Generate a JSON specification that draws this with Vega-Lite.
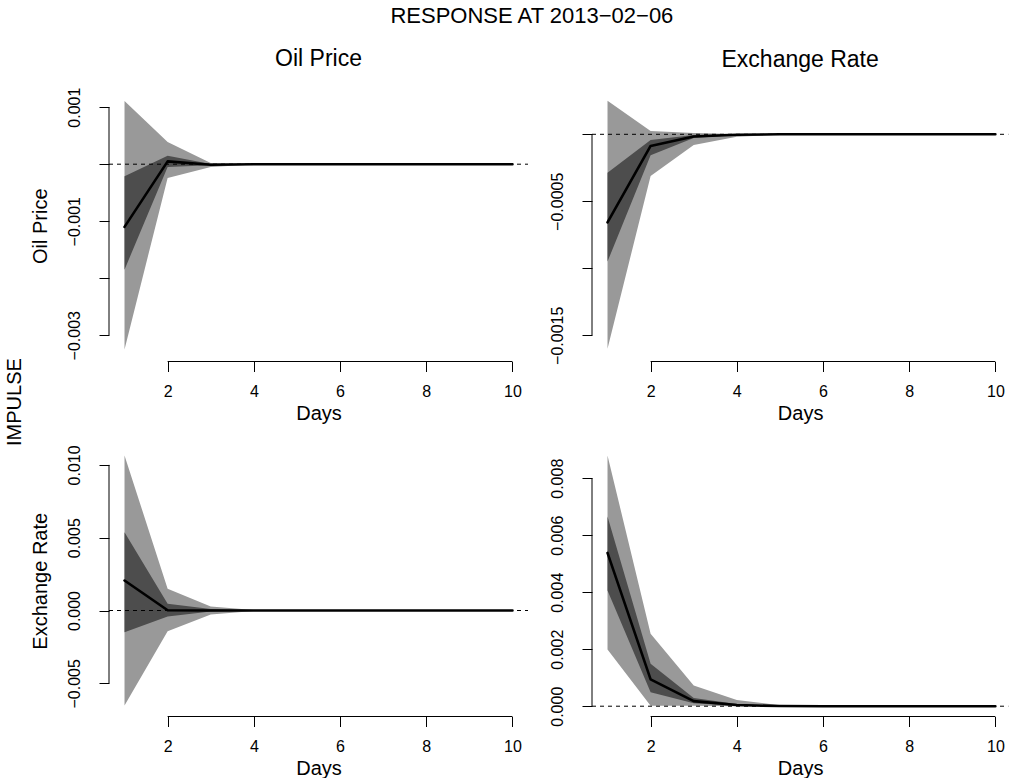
{
  "$schema": "https://vega.github.io/schema/vega-lite/v6.json",
  "background": "white",
  "padding": {"left": 4, "top": 5, "right": 0, "bottom": 0},
  "autosize": {"type": "pad"},
  "title": {"text": "RESPONSE AT 2013−02−06", "fontSize": 22, "font": "Liberation Sans", "fontWeight": "normal", "color": "black", "anchor": "middle", "baseline": "alphabetic", "offset": 3, "frame": "bounds", "dx": 25},
  "datasets": {
    "tl": [
      {"day": 1, "lo_outer": -0.00325, "lo_inner": -0.00185, "irf": -0.0011, "hi_inner": -0.00021, "hi_outer": 0.00111},
      {"day": 2, "lo_outer": -0.00024, "lo_inner": -0.00005, "irf": 0.00005, "hi_inner": 0.00015, "hi_outer": 0.00039},
      {"day": 3, "lo_outer": -0.00005, "lo_inner": -0.00002, "irf": -0.00001, "hi_inner": 0.000005, "hi_outer": 0.00002},
      {"day": 4, "lo_outer": -0.000005, "lo_inner": -0.000002, "irf": 0, "hi_inner": 0.000001, "hi_outer": 0.000004},
      {"day": 5, "lo_outer": 0, "lo_inner": 0, "irf": 0, "hi_inner": 0, "hi_outer": 0},
      {"day": 6, "lo_outer": 0, "lo_inner": 0, "irf": 0, "hi_inner": 0, "hi_outer": 0},
      {"day": 7, "lo_outer": 0, "lo_inner": 0, "irf": 0, "hi_inner": 0, "hi_outer": 0},
      {"day": 8, "lo_outer": 0, "lo_inner": 0, "irf": 0, "hi_inner": 0, "hi_outer": 0},
      {"day": 9, "lo_outer": 0, "lo_inner": 0, "irf": 0, "hi_inner": 0, "hi_outer": 0},
      {"day": 10, "lo_outer": 0, "lo_inner": 0, "irf": 0, "hi_inner": 0, "hi_outer": 0}
    ],
    "tr": [
      {"day": 1, "lo_outer": -0.0016, "lo_inner": -0.00095, "irf": -0.000657, "hi_inner": -0.000287, "hi_outer": 0.00025},
      {"day": 2, "lo_outer": -0.000311, "lo_inner": -0.000157, "irf": -0.000087, "hi_inner": -0.000043, "hi_outer": 0.000025},
      {"day": 3, "lo_outer": -0.00008, "lo_inner": -0.000028, "irf": -0.000016, "hi_inner": -0.000005, "hi_outer": 0.00001},
      {"day": 4, "lo_outer": -0.000018, "lo_inner": -0.000006, "irf": -0.000003, "hi_inner": -0.000001, "hi_outer": 0.000002},
      {"day": 5, "lo_outer": -0.000003, "lo_inner": -0.000001, "irf": 0, "hi_inner": 0, "hi_outer": 0},
      {"day": 6, "lo_outer": 0, "lo_inner": 0, "irf": 0, "hi_inner": 0, "hi_outer": 0},
      {"day": 7, "lo_outer": 0, "lo_inner": 0, "irf": 0, "hi_inner": 0, "hi_outer": 0},
      {"day": 8, "lo_outer": 0, "lo_inner": 0, "irf": 0, "hi_inner": 0, "hi_outer": 0},
      {"day": 9, "lo_outer": 0, "lo_inner": 0, "irf": 0, "hi_inner": 0, "hi_outer": 0},
      {"day": 10, "lo_outer": 0, "lo_inner": 0, "irf": 0, "hi_inner": 0, "hi_outer": 0}
    ],
    "bl": [
      {"day": 1, "lo_outer": -0.00652, "lo_inner": -0.00149, "irf": 0.00206, "hi_inner": 0.00538, "hi_outer": 0.01065},
      {"day": 2, "lo_outer": -0.00142, "lo_inner": -0.00041, "irf": 0.00002, "hi_inner": 0.00046, "hi_outer": 0.00149},
      {"day": 3, "lo_outer": -0.00027, "lo_inner": -0.00007, "irf": 0, "hi_inner": 0.0001, "hi_outer": 0.00027},
      {"day": 4, "lo_outer": -0.00003, "lo_inner": -0.00001, "irf": 0, "hi_inner": 0.00001, "hi_outer": 0.00003},
      {"day": 5, "lo_outer": 0, "lo_inner": 0, "irf": 0, "hi_inner": 0, "hi_outer": 0},
      {"day": 6, "lo_outer": 0, "lo_inner": 0, "irf": 0, "hi_inner": 0, "hi_outer": 0},
      {"day": 7, "lo_outer": 0, "lo_inner": 0, "irf": 0, "hi_inner": 0, "hi_outer": 0},
      {"day": 8, "lo_outer": 0, "lo_inner": 0, "irf": 0, "hi_inner": 0, "hi_outer": 0},
      {"day": 9, "lo_outer": 0, "lo_inner": 0, "irf": 0, "hi_inner": 0, "hi_outer": 0},
      {"day": 10, "lo_outer": 0, "lo_inner": 0, "irf": 0, "hi_inner": 0, "hi_outer": 0}
    ],
    "br": [
      {"day": 1, "lo_outer": 0.00199, "lo_inner": 0.00406, "irf": 0.00538, "hi_inner": 0.00666, "hi_outer": 0.0088},
      {"day": 2, "lo_outer": 0.00002, "lo_inner": 0.00049, "irf": 0.00094, "hi_inner": 0.00149, "hi_outer": 0.00254},
      {"day": 3, "lo_outer": 0.00002, "lo_inner": 0.0001, "irf": 0.00018, "hi_inner": 0.00029, "hi_outer": 0.00073},
      {"day": 4, "lo_outer": 0, "lo_inner": 0.00001, "irf": 0.00004, "hi_inner": 0.00008, "hi_outer": 0.00022},
      {"day": 5, "lo_outer": 0, "lo_inner": 0, "irf": 0.000005, "hi_inner": 0.00001, "hi_outer": 0.00003},
      {"day": 6, "lo_outer": 0, "lo_inner": 0, "irf": 0, "hi_inner": 0, "hi_outer": 0},
      {"day": 7, "lo_outer": 0, "lo_inner": 0, "irf": 0, "hi_inner": 0, "hi_outer": 0},
      {"day": 8, "lo_outer": 0, "lo_inner": 0, "irf": 0, "hi_inner": 0, "hi_outer": 0},
      {"day": 9, "lo_outer": 0, "lo_inner": 0, "irf": 0, "hi_inner": 0, "hi_outer": 0},
      {"day": 10, "lo_outer": 0, "lo_inner": 0, "irf": 0, "hi_inner": 0, "hi_outer": 0}
    ]
  },
  "vconcat": [
    {
      "title": {"text": "IMPULSE", "orient": "left", "fontSize": 20, "font": "Liberation Sans", "fontWeight": "normal", "color": "black", "anchor": "middle", "baseline": "bottom", "offset": -15, "frame": "bounds", "dx": 11},
      "bounds": "flush",
      "columns": 2,
      "spacing": {"row": 83, "column": 64},
      "concat": [
        {
          "data": {"name": "tl"},
          "width": 419, "height": 271.5,
          "title": {"text": "Oil Price", "offset": 16},
          "layer": [
            {"mark": {"type": "area", "color": "#999999"},
             "encoding": {
               "x": {"field": "day", "type": "quantitative", "scale": {"domain": [0.64, 10.36], "nice": false, "zero": false}, "axis": {"title": "Days", "values": [2, 4, 6, 8, 10], "format": "d"}},
               "y": {"field": "lo_outer", "type": "quantitative", "scale": {"domain": [-0.0034614, 0.0013018], "nice": false, "zero": false}, "axis": {"title": "Oil Price", "values": [-0.003, -0.002, -0.001, 0, 0.001], "labelExpr": "abs(round(datum.value*1000)) % 2 == 1 ? format(datum.value, '.3f') : ''"}},
               "y2": {"field": "hi_outer"}}},
            {"mark": {"type": "area", "color": "#4d4d4d"},
             "encoding": {"x": {"field": "day", "type": "quantitative"}, "y": {"field": "lo_inner", "type": "quantitative"}, "y2": {"field": "hi_inner"}}},
            {"data": {"values": [{}]}, "mark": {"type": "rule", "color": "black", "strokeWidth": 1, "strokeDash": [4, 4]},
             "encoding": {"x": {"datum": 0.64}, "x2": {"datum": 10.36}, "y": {"datum": 0}}},
            {"mark": {"type": "line", "color": "black", "strokeWidth": 2.6, "strokeCap": "round", "strokeJoin": "round"},
             "encoding": {"x": {"field": "day", "type": "quantitative"}, "y": {"field": "irf", "type": "quantitative"}}},
            {"data": {"values": [{}]}, "mark": {"type": "rule", "color": "black", "strokeWidth": 1},
             "encoding": {"x": {"datum": 2}, "x2": {"datum": 10}, "y": {"datum": -0.0034614}}},
            {"data": {"values": [{}]}, "mark": {"type": "rule", "color": "black", "strokeWidth": 1},
             "encoding": {"x": {"datum": 0.64}, "y": {"datum": -0.003}, "y2": {"datum": 0.001}}}
          ]
        },
        {
          "data": {"name": "tr"},
          "width": 416.3, "height": 271.5,
          "title": {"text": "Exchange Rate", "offset": 18},
          "layer": [
            {"mark": {"type": "area", "color": "#999999"},
             "encoding": {
               "x": {"field": "day", "type": "quantitative", "scale": {"domain": [0.64, 10.3], "nice": false, "zero": false}, "axis": {"title": "Days", "values": [2, 4, 6, 8, 10], "format": "d"}},
               "y": {"field": "lo_outer", "type": "quantitative", "scale": {"domain": [-0.0016955, 0.0003306], "nice": false, "zero": false}, "axis": {"title": null, "values": [-0.0015, -0.001, -0.0005, 0], "labelExpr": "abs(round(datum.value*2000)) % 2 == 1 ? format(datum.value, '.4f') : ''"}},
               "y2": {"field": "hi_outer"}}},
            {"mark": {"type": "area", "color": "#4d4d4d"},
             "encoding": {"x": {"field": "day", "type": "quantitative"}, "y": {"field": "lo_inner", "type": "quantitative"}, "y2": {"field": "hi_inner"}}},
            {"data": {"values": [{}]}, "mark": {"type": "rule", "color": "black", "strokeWidth": 1, "strokeDash": [4, 4]},
             "encoding": {"x": {"datum": 0.64}, "x2": {"datum": 10.3}, "y": {"datum": 0}}},
            {"mark": {"type": "line", "color": "black", "strokeWidth": 2.6, "strokeCap": "round", "strokeJoin": "round"},
             "encoding": {"x": {"field": "day", "type": "quantitative"}, "y": {"field": "irf", "type": "quantitative"}}},
            {"data": {"values": [{}]}, "mark": {"type": "rule", "color": "black", "strokeWidth": 1},
             "encoding": {"x": {"datum": 2}, "x2": {"datum": 10}, "y": {"datum": -0.0016955}}},
            {"data": {"values": [{}]}, "mark": {"type": "rule", "color": "black", "strokeWidth": 1},
             "encoding": {"x": {"datum": 0.64}, "y": {"datum": -0.0015}, "y2": {"datum": 0}}}
          ]
        },
        {
          "data": {"name": "bl"},
          "width": 419, "height": 271.5,
          "layer": [
            {"mark": {"type": "area", "color": "#999999"},
             "encoding": {
               "x": {"field": "day", "type": "quantitative", "scale": {"domain": [0.64, 10.36], "nice": false, "zero": false}, "axis": {"title": "Days", "values": [2, 4, 6, 8, 10], "format": "d"}},
               "y": {"field": "lo_outer", "type": "quantitative", "scale": {"domain": [-0.00728, 0.011367], "nice": false, "zero": false}, "axis": {"title": "Exchange Rate", "values": [-0.005, 0, 0.005, 0.01], "format": ".3f"}},
               "y2": {"field": "hi_outer"}}},
            {"mark": {"type": "area", "color": "#4d4d4d"},
             "encoding": {"x": {"field": "day", "type": "quantitative"}, "y": {"field": "lo_inner", "type": "quantitative"}, "y2": {"field": "hi_inner"}}},
            {"data": {"values": [{}]}, "mark": {"type": "rule", "color": "black", "strokeWidth": 1, "strokeDash": [4, 4]},
             "encoding": {"x": {"datum": 0.64}, "x2": {"datum": 10.36}, "y": {"datum": 0}}},
            {"mark": {"type": "line", "color": "black", "strokeWidth": 2.6, "strokeCap": "round", "strokeJoin": "round"},
             "encoding": {"x": {"field": "day", "type": "quantitative"}, "y": {"field": "irf", "type": "quantitative"}}},
            {"data": {"values": [{}]}, "mark": {"type": "rule", "color": "black", "strokeWidth": 1},
             "encoding": {"x": {"datum": 2}, "x2": {"datum": 10}, "y": {"datum": -0.00728}}},
            {"data": {"values": [{}]}, "mark": {"type": "rule", "color": "black", "strokeWidth": 1},
             "encoding": {"x": {"datum": 0.64}, "y": {"datum": -0.005}, "y2": {"datum": 0.01}}}
          ]
        },
        {
          "data": {"name": "br"},
          "width": 416.3, "height": 271.5,
          "layer": [
            {"mark": {"type": "area", "color": "#999999"},
             "encoding": {
               "x": {"field": "day", "type": "quantitative", "scale": {"domain": [0.64, 10.3], "nice": false, "zero": false}, "axis": {"title": "Days", "values": [2, 4, 6, 8, 10], "format": "d"}},
               "y": {"field": "lo_outer", "type": "quantitative", "scale": {"domain": [-0.000361, 0.009165], "nice": false, "zero": false}, "axis": {"title": null, "values": [0, 0.002, 0.004, 0.006, 0.008], "format": ".3f"}},
               "y2": {"field": "hi_outer"}}},
            {"mark": {"type": "area", "color": "#4d4d4d"},
             "encoding": {"x": {"field": "day", "type": "quantitative"}, "y": {"field": "lo_inner", "type": "quantitative"}, "y2": {"field": "hi_inner"}}},
            {"data": {"values": [{}]}, "mark": {"type": "rule", "color": "black", "strokeWidth": 1, "strokeDash": [4, 4]},
             "encoding": {"x": {"datum": 0.64}, "x2": {"datum": 10.3}, "y": {"datum": 0}}},
            {"mark": {"type": "line", "color": "black", "strokeWidth": 2.6, "strokeCap": "round", "strokeJoin": "round"},
             "encoding": {"x": {"field": "day", "type": "quantitative"}, "y": {"field": "irf", "type": "quantitative"}}},
            {"data": {"values": [{}]}, "mark": {"type": "rule", "color": "black", "strokeWidth": 1},
             "encoding": {"x": {"datum": 2}, "x2": {"datum": 10}, "y": {"datum": -0.000361}}},
            {"data": {"values": [{}]}, "mark": {"type": "rule", "color": "black", "strokeWidth": 1},
             "encoding": {"x": {"datum": 0.64}, "y": {"datum": 0}, "y2": {"datum": 0.008}}}
          ]
        }
      ]
    }
  ],
  "config": {
    "view": {"stroke": null},
    "font": "Liberation Sans",
    "title": {"fontSize": 23, "font": "Liberation Sans", "fontWeight": "normal", "color": "black", "anchor": "middle", "baseline": "alphabetic", "frame": "group"},
    "axis": {"domain": false, "grid": false, "ticks": true, "tickColor": "black", "tickSize": 10, "tickWidth": 1, "labelColor": "black", "labelFont": "Liberation Sans", "labelFontSize": 16, "titleFont": "Liberation Sans", "titleFontSize": 20, "titleFontWeight": "normal", "titleColor": "black", "labelFlush": false, "labelOverlap": false},
    "axisX": {"labelPadding": 12, "titlePadding": 3.5},
    "axisY": {"labelAngle": 270, "labelAlign": "center", "labelBaseline": "alphabetic", "labelPadding": 20, "titlePadding": 16}
  }
}
